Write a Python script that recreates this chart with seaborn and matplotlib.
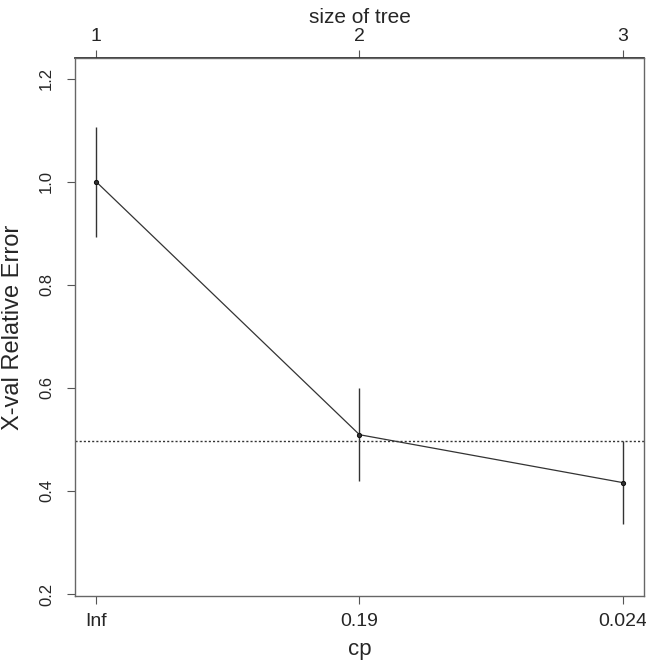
import numpy as np
import pandas as pd
import matplotlib
matplotlib.use("Agg")
from matplotlib import pyplot as plt
import seaborn as sns

# wartosci (plotcp z rpart)
tree_size = [1, 2, 3]
cp_labels = ["Inf", "0.19", "0.024"]
xerror = [1.0, 0.509, 0.416]
xstd = [0.107, 0.090, 0.081]
threshold = 0.497   # min(xerror) + xstd

sns.set_theme(style="white")
plt.rcParams["font.family"] = ["Liberation Sans", "DejaVu Sans"]

df = pd.DataFrame({"size": tree_size, "xerror": xerror, "xstd": xstd})

fig = plt.figure(figsize=(6.46, 6.61), dpi=100)
ax = fig.add_axes([0.1161, 0.0983, 0.8808, 0.814])

# pionowe odcinki bledu
ax.vlines(df["size"], df["xerror"] - df["xstd"], df["xerror"] + df["xstd"],
          color="#333333", lw=1.0)
# linia z punktami
sns.lineplot(data=df, x="size", y="xerror", ax=ax, color="#333333", lw=0.9,
             marker="o", markersize=3, markeredgecolor="#111111")
ax.axhline(threshold, color="#333333", lw=1.0, ls=(0, (1.5, 1.5)))

ax.set_xlim(0.92, 3.08)
ax.set_ylim(0.196, 1.24)
ax.set_xticks(tree_size)
ax.set_xticklabels(cp_labels)
ax.set_yticks([0.2, 0.4, 0.6, 0.8, 1.0, 1.2])
ax.set_yticklabels(["0.2", "0.4", "0.6", "0.8", "1.0", "1.2"], rotation=90, va="center")
ax.set_xlabel("cp", fontsize=16, labelpad=7)
ax.set_ylabel("X-val Relative Error", fontsize=17, labelpad=11)
ax.tick_params(axis="x", direction="out", length=6, width=0.8, color="#555555",
               labelsize=14, bottom=True, pad=6)
ax.tick_params(axis="y", direction="out", length=6, width=0.8, color="#555555",
               labelsize=12, left=True, pad=9)
for s in ax.spines.values():
    s.set_color("#666666")
    s.set_linewidth(1.0)

# gorna os - rozmiar drzewa
top = ax.secondary_xaxis("top")
top.set_xticks(tree_size)
top.set_xticklabels([str(t) for t in tree_size])
top.set_xlabel("size of tree", fontsize=15, labelpad=4)
top.tick_params(direction="out", length=6, width=0.8, color="#555555", labelsize=14, pad=3)

fig.savefig("out.png", dpi=100)
